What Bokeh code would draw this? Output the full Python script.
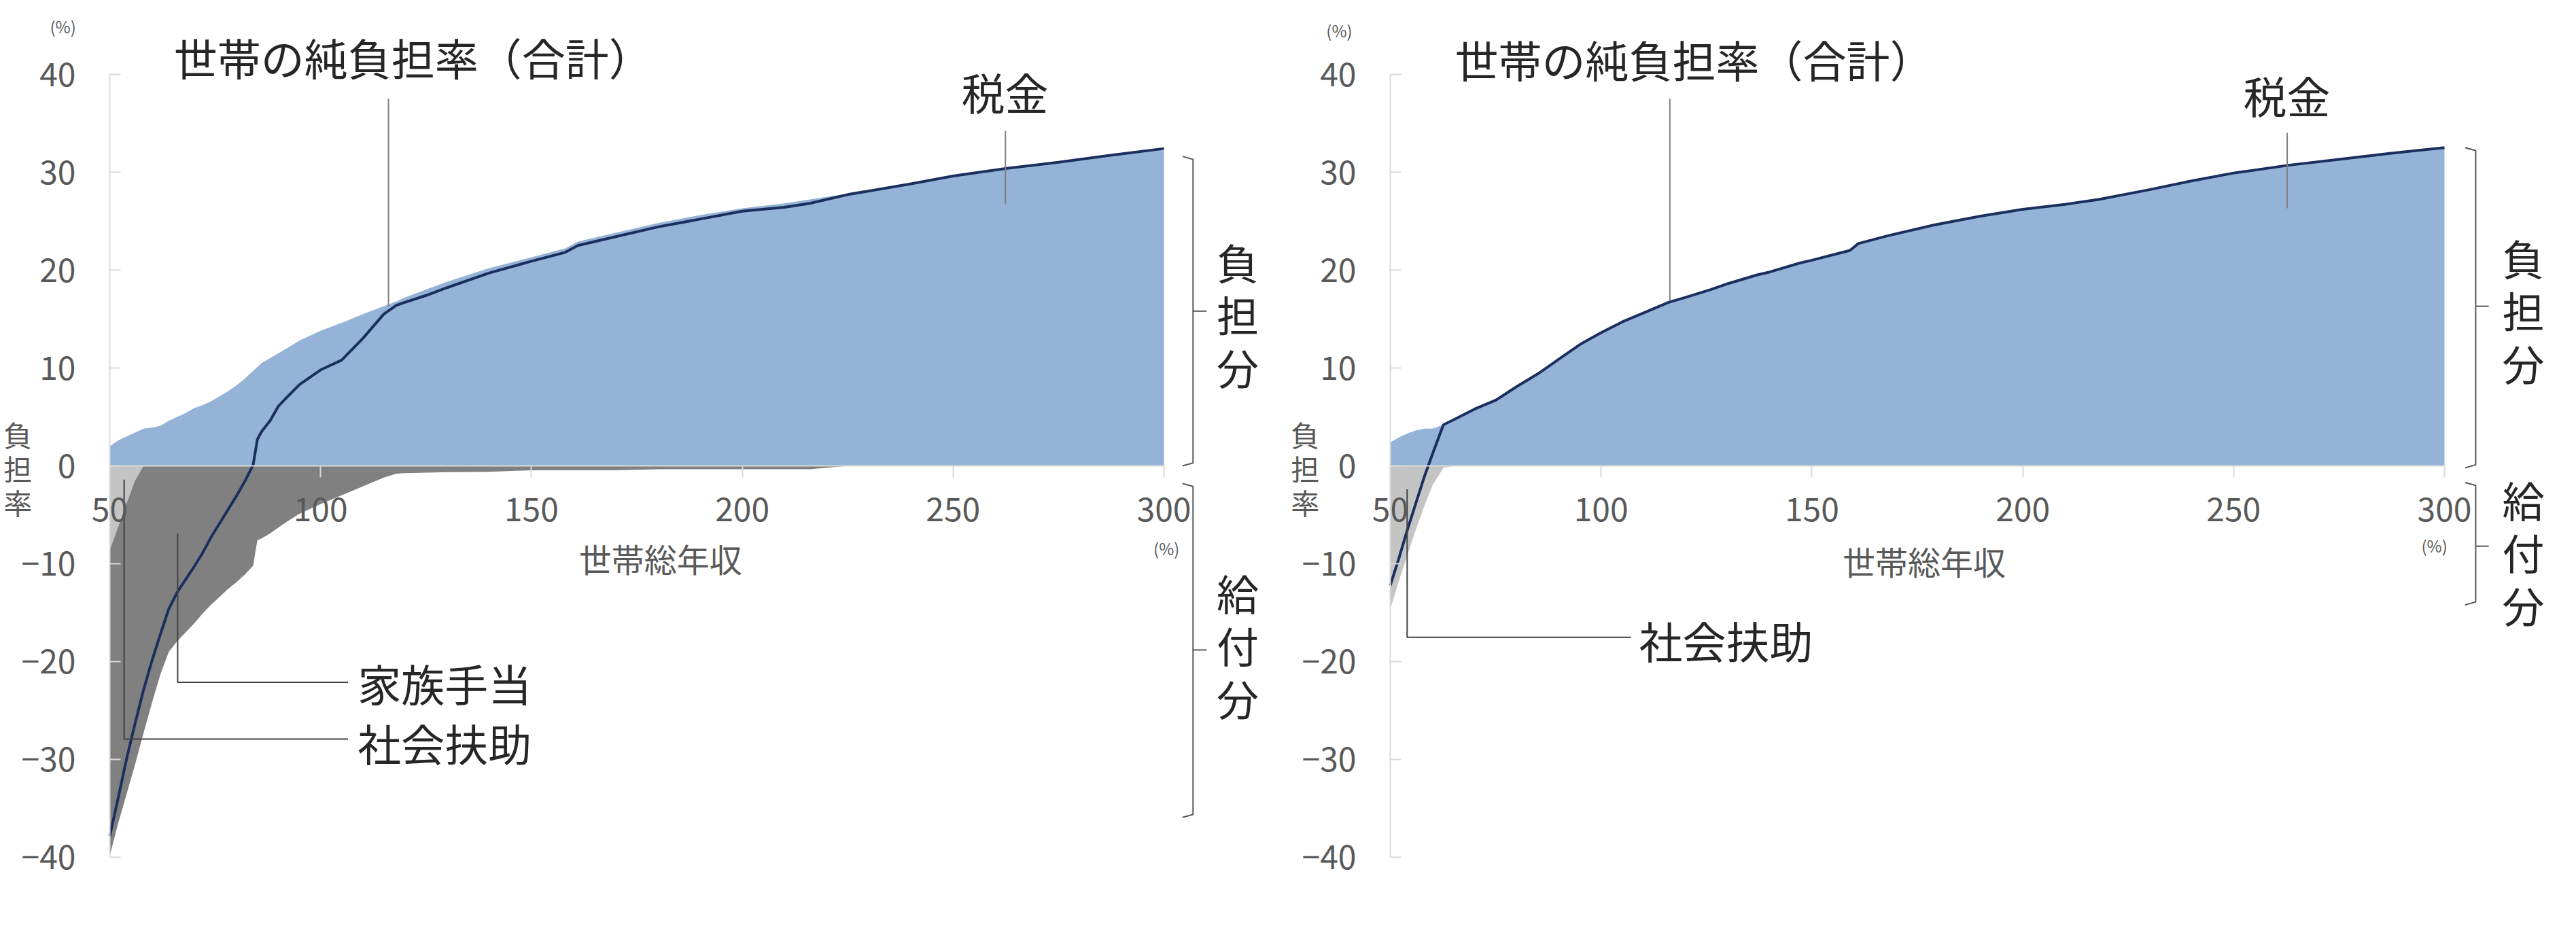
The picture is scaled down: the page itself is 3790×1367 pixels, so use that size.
import numpy as np
from bokeh.plotting import figure
from bokeh.models import Range1d, LinearAxis, FixedTicker
from bokeh.layouts import row
from bokeh.embed import file_html
from bokeh.resources import INLINE
from bokeh.core.properties import value

# ---------------- data ----------------
# left chart: household with family allowance
income_L = [50, 52, 54, 56, 58, 60, 62, 64, 66, 68, 70, 72, 74, 76, 78, 80, 82, 84, 85, 86,
            88, 90, 92, 95, 100, 105, 110, 115, 118, 120, 125, 130, 140, 150, 158, 161, 170,
            180, 190, 200, 210, 216, 225, 240, 250, 263, 275, 287, 300]
tax_L = [2.0, 2.6, 3.0, 3.4, 3.8, 3.9, 4.1, 4.6, 5.0, 5.4, 5.9, 6.2, 6.6, 7.1, 7.6, 8.2, 8.9, 9.7, 10.1, 10.5,
         11.0, 11.5, 12.0, 12.8, 13.8, 14.6, 15.5, 16.3, 16.8, 17.2, 18.0, 18.8, 20.2, 21.3, 22.2, 22.9, 23.8,
         24.8, 25.6, 26.3, 26.8, 27.2, 27.8, 28.8, 29.6, 30.4, 31.0, 31.7, 32.4]
social_L = [-8.6, -6.2, -3.8, -1.5, 0, 0, 0, 0, 0, 0, 0, 0, 0, 0, 0, 0, 0, 0, 0, 0,
            0, 0, 0, 0, 0, 0, 0, 0, 0, 0, 0, 0, 0, 0, 0, 0, 0,
            0, 0, 0, 0, 0, 0, 0, 0, 0, 0, 0, 0]
family_L = [-31.2, -30.3, -29.7, -29.0, -27.3, -24.2, -21.3, -19.0, -17.9, -17.0, -16.1, -15.1, -14.2,
            -13.4, -12.6, -11.9, -11.1, -10.2, -7.6, -7.4, -6.9, -6.3, -5.7, -4.9, -3.9, -3.0, -2.1,
            -1.2, -0.8, -0.75, -0.7, -0.65, -0.6, -0.45, -0.45, -0.45, -0.45, -0.35, -0.35, -0.35,
            -0.35, -0.35, 0, 0, 0, 0, 0, 0, 0]
net_L = [-37.8, -33.9, -29.9, -26.3, -22.9, -19.9, -17.2, -14.6, -12.9, -11.6, -10.3, -8.9, -7.3, -5.9,
         -4.5, -3.1, -1.6, 0.1, 2.7, 3.5, 4.6, 6.1, 7.0, 8.3, 9.8, 10.8, 13.0, 15.5, 16.4, 16.7, 17.4,
         18.2, 19.7, 20.9, 21.8, 22.5, 23.4, 24.4, 25.2, 26.0, 26.4, 26.8, 27.7, 28.8, 29.6, 30.4,
         31.0, 31.7, 32.4]

# right chart: household without family allowance
income_R = [50, 52, 54, 56, 58, 60, 62.6, 65, 70, 75, 80, 85, 90, 95, 100, 105, 110, 116, 120, 126,
            130, 137, 140, 147, 150, 159, 161, 168, 179, 190, 200, 210, 218, 230, 240, 250, 263,
            275, 287, 300]
tax_R = [2.4, 2.9, 3.3, 3.6, 3.8, 3.8, 4.2, 4.7, 5.8, 6.7, 8.1, 9.4, 10.9, 12.4, 13.6, 14.7, 15.6,
         16.7, 17.2, 18.0, 18.6, 19.5, 19.8, 20.7, 21.0, 22.0, 22.7, 23.5, 24.6, 25.5, 26.2, 26.7,
         27.2, 28.2, 29.1, 29.9, 30.7, 31.3, 31.9, 32.5]
social_R = [-14.6, -11.8, -9.2, -6.6, -4.2, -2.0, -0.2, 0, 0, 0, 0, 0, 0, 0, 0, 0, 0,
            0, 0, 0, 0, 0, 0, 0, 0, 0, 0, 0, 0, 0, 0, 0,
            0, 0, 0, 0, 0, 0, 0, 0]
net_R = [-12.2, -9.5, -6.6, -3.9, -1.2, 1.2, 4.2, 4.7, 5.8, 6.7, 8.1, 9.4, 10.9, 12.4, 13.6, 14.7,
         15.6, 16.7, 17.2, 18.0, 18.6, 19.5, 19.8, 20.7, 21.0, 22.0, 22.7, 23.5, 24.6, 25.5, 26.2,
         26.7, 27.2, 28.2, 29.1, 29.9, 30.7, 31.3, 31.9, 32.5]

x_ticks = [50, 100, 150, 200, 250, 300]
y_ticks = [-40, -30, -20, -10, 0, 10, 20, 30, 40]

title_text = "世帯の純負担率（合計）"
tax_text = "税金"
family_text = "家族手当"
social_text = "社会扶助"
xlabel_text = "世帯総年収"
ylabel_text = "負\n担\n率"
burden_text = "負\n担\n分"
benefit_text = "給\n付\n分"
unit_text = "(%)"

# ---------------- style ----------------
FONT = "Noto Sans CJK JP"
BLUE = "#95B3D7"
DARK_GREY = "#808080"
LIGHT_GREY = "#C4C4C4"
NAVY = "#1B2F5E"
TEXT = "#262626"
TICK_TEXT = "#595959"
AXIS = "#D9D9D9"

PX_X = 6.204   # px per x unit
PX_Y = 14.41   # px per y unit
FIG_W = 1895
FIG_H = 1367
ZERO_PX = 685  # y=0 position from top of figure


def make_chart(x, tax, social, family, net, left_px, ann):
    x0 = 50 - left_px / PX_X
    p = figure(width=FIG_W, height=FIG_H, output_backend="svg", toolbar_location=None,
               x_axis_location=None, y_axis_location=None,
               x_range=Range1d(x0, x0 + FIG_W / PX_X),
               y_range=Range1d(-(FIG_H - ZERO_PX) / PX_Y, ZERO_PX / PX_Y),
               min_border=0, min_border_left=0, min_border_right=0,
               min_border_top=0, min_border_bottom=0)
    p.outline_line_color = None
    p.grid.visible = False
    p.background_fill_color = "white"
    p.border_fill_color = "white"

    x = np.array(x, dtype=float)
    tax = np.array(tax, dtype=float)
    social = np.array(social, dtype=float)
    family = np.array(family, dtype=float) if family is not None else np.zeros_like(x)

    p.varea(x=x, y1=0, y2=tax, fill_color=BLUE)
    p.varea(x=x, y1=0, y2=social, fill_color=LIGHT_GREY)
    if ann.get("family"):
        p.varea(x=x, y1=social, y2=social + family, fill_color=DARK_GREY)
    p.line(x=x, y=net, line_color=NAVY, line_width=4)

    # axes crossing at zero / x = 50
    xa = LinearAxis(ticker=FixedTicker(ticks=x_ticks), fixed_location=0, bounds=(50, 300))
    xa.axis_line_color = AXIS
    xa.axis_line_width = 2
    xa.major_tick_line_color = AXIS
    xa.major_tick_line_width = 2
    xa.major_tick_out = 17
    xa.major_tick_in = 0
    xa.minor_tick_line_color = None
    xa.major_label_standoff = 29
    xa.major_label_text_font = FONT
    xa.major_label_text_font_size = "48px"
    xa.major_label_text_color = TICK_TEXT
    p.add_layout(xa, "below")

    ya = LinearAxis(ticker=FixedTicker(ticks=y_ticks), fixed_location=50, bounds=(-40, 40))
    ya.axis_line_color = AXIS
    ya.axis_line_width = 2
    ya.major_tick_line_color = AXIS
    ya.major_tick_line_width = 2
    ya.major_tick_out = 0
    ya.major_tick_in = 16
    ya.minor_tick_line_color = None
    ya.major_label_standoff = 50
    ya.major_label_text_font = FONT
    ya.major_label_text_font_size = "48px"
    ya.major_label_text_color = TICK_TEXT
    p.add_layout(ya, "left")

    # leader lines
    p.multi_line(xs=ann["grey_leaders_x"], ys=ann["grey_leaders_y"], line_color="#7F7F7F", line_width=2)
    p.multi_line(xs=ann["dark_leaders_x"], ys=ann["dark_leaders_y"], line_color="#404040", line_width=2)
    # brackets
    p.multi_line(xs=ann["br_x"], ys=ann["br_y"], line_color="#595959", line_width=2)

    def txt(xx, yy, t, size, align="left", color=TEXT, lh=1.2):
        p.text(x=[xx], y=[yy], text=[t], text_font=value(FONT), text_font_size=size,
               text_align=align, text_baseline="middle", text_color=color, text_line_height=lh)

    txt(*ann["title"], title_text, "64px")
    txt(*ann["tax"], tax_text, "64px", align="center")
    for pos, t in ann["benefit_labels"]:
        txt(*pos, t, "64px")
    txt(*ann["xlabel"], xlabel_text, "48px", align="center", color=TICK_TEXT)
    txt(*ann["ylabel"], ylabel_text, "42px", align="center", color=TICK_TEXT, lh=0.82)
    txt(*ann["yunit"], unit_text, "24px", align="center", color=TICK_TEXT)
    txt(*ann["xunit"], unit_text, "24px", align="center", color=TICK_TEXT)
    txt(*ann["burden"], burden_text, "62px", align="center", lh=0.86)
    txt(*ann["benefit"], benefit_text, "62px", align="center", lh=0.86)
    return p


ann_L = dict(
    family=True,
    grey_leaders_x=[[116.1, 116.1], [262.4, 262.4]],
    grey_leaders_y=[[37.5, 16.3], [34.2, 26.7]],
    dark_leaders_x=[[53.4, 53.4, 106.5], [66.1, 66.1, 106.5]],
    dark_leaders_y=[[-1.4, -27.9, -27.9], [-6.9, -22.1, -22.1]],
    br_x=[[304.4, 306.9, 306.9, 304.4], [306.9, 310.1], [304.4, 306.9, 306.9, 304.4], [306.9, 310.1]],
    br_y=[[31.6, 31.3, 0.3, 0.0], [15.8, 15.8], [-1.8, -2.1, -35.6, -35.9], [-18.8, -18.8]],
    title=(65.2, 41.8),
    tax=(262.3, 38.3),
    benefit_labels=[((108.8, -22.1), family_text), ((108.8, -28.2), social_text)],
    xlabel=(180.6, -9.4),
    ylabel=(28.2, -0.2),
    yunit=(38.9, 44.9),
    xunit=(300.6, -8.4),
    burden=(317.5, 15.5),
    benefit=(317.5, -18.3),
)

ann_R = dict(
    family=False,
    grey_leaders_x=[[116.3, 116.3], [262.7, 262.7]],
    grey_leaders_y=[[37.5, 16.9], [34.0, 26.3]],
    dark_leaders_x=[[54.0, 54.0, 107.1]],
    dark_leaders_y=[[-2.4, -17.5, -17.5]],
    br_x=[[304.9, 307.4, 307.4, 304.9], [307.4, 310.5], [304.9, 307.4, 307.4, 304.9], [307.4, 310.5]],
    br_y=[[32.5, 32.2, 0.1, -0.2], [16.3, 16.3], [-1.7, -2.0, -13.9, -14.2], [-8.2, -8.2]],
    title=(65.3, 41.6),
    tax=(262.6, 37.9),
    benefit_labels=[((109.0, -17.7), social_text)],
    xlabel=(176.6, -9.7),
    ylabel=(29.8, -0.2),
    yunit=(37.9, 44.5),
    xunit=(297.6, -8.1),
    burden=(318.7, 15.9),
    benefit=(318.7, -8.8),
)

p1 = make_chart(income_L, tax_L, social_L, family_L, net_L, 161, ann_L)
p2 = make_chart(income_R, tax_R, social_R, None, net_R, 2045 - FIG_W, ann_R)

layout = row(p1, p2)
open("out.html", "w").write(file_html(layout, INLINE))
